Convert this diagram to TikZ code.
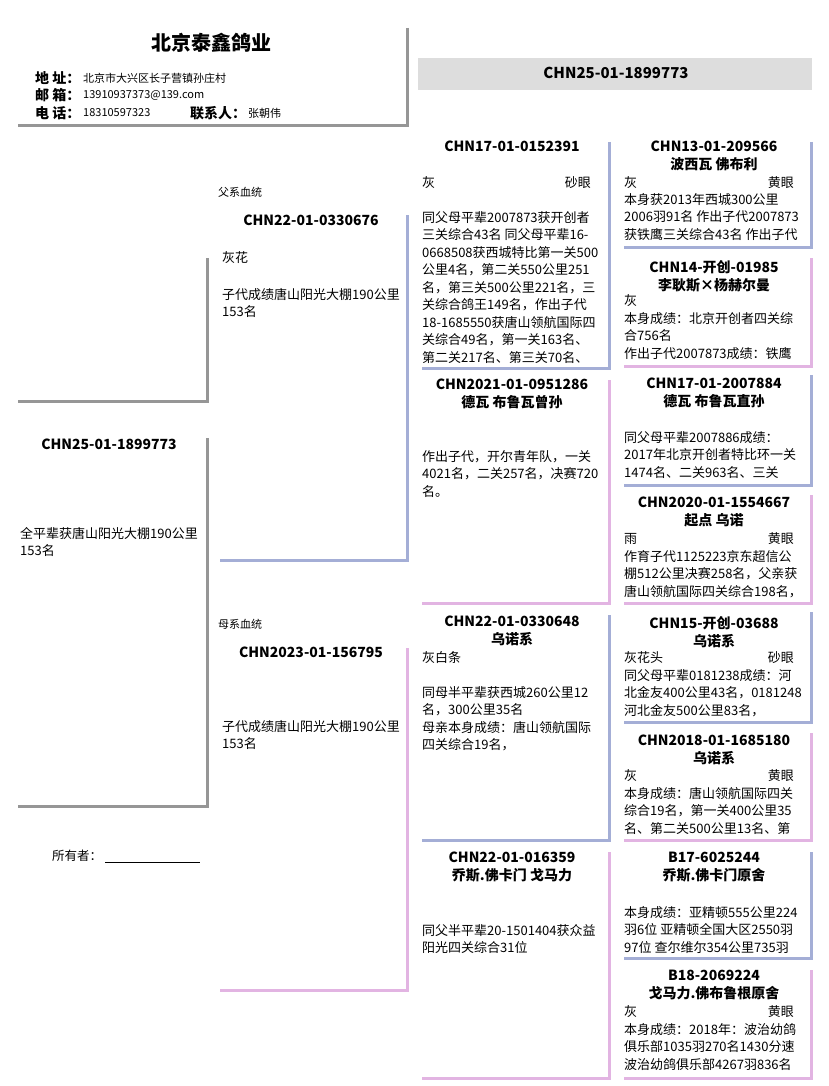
\documentclass[tikz,border=0pt]{standalone}
\usepackage{fontspec}
\setmainfont{Noto Sans CJK SC}
\definecolor{sireblue}{RGB}{164,174,214}
\definecolor{dampink}{RGB}{226,180,226}
\definecolor{linegray}{RGB}{150,150,150}
\definecolor{bandgray}{RGB}{221,221,221}
\begin{document}
\begin{tikzpicture}[x=1pt,y=-1pt,
        idtxt/.style={font=\bfseries\fontsize{14}{18}\selectfont,align=center,anchor=north,inner sep=0},
        body/.style={font=\fontsize{13}{17.5}\selectfont,align=left,anchor=north west,inner sep=0},
        colour/.style={font=\fontsize{13}{15}\selectfont,anchor=west,inner sep=0},
        eye/.style={font=\fontsize{13}{15}\selectfont,anchor=east,inner sep=0},
        small/.style={font=\fontsize{11}{13}\selectfont,anchor=west,inner sep=0},
        lbl/.style={font=\bfseries\fontsize{14}{16}\selectfont,anchor=west,inner sep=0},
        sireline/.style={draw=sireblue,line width=3pt},
        damline/.style={draw=dampink,line width=3pt},
        grayline/.style={draw=linegray,line width=3pt}]
        \useasboundingbox (0,0) rectangle (828,1086);

        % header
        \draw[grayline] (407,28) -- (407,126) -- (18,126);
        \node[font=\bfseries\fontsize{20}{22}\selectfont] (loft) at (211,43) {北京泰鑫鸽业};
        \node[lbl] (addr) at (35,78) {地 址：};
        \node[small] (addrv) at (83,78) {北京市大兴区长子营镇孙庄村};
        \node[lbl] (mail) at (35,95) {邮 箱：};
        \node[small] (mailv) at (83,95) {13910937373@139.com};
        \node[lbl] (tel) at (35,113) {电 话：};
        \node[small] (telv) at (83,113) {18310597323};
        \node[lbl] (cont) at (190,113) {联系人：};
        \node[small] (contv) at (248,113) {张朝伟};

        \fill[bandgray] (418,58) rectangle (812,90);
        \node[font=\bfseries\fontsize{15}{17}\selectfont] (ring) at (616,73) {CHN25-01-1899773};

        % bird
        \draw[grayline] (207,258) -- (207,401) -- (18,401);
        \draw[grayline] (207,438) -- (207,806) -- (18,806);
        \node[idtxt] (bird) at (109,439) {CHN25-01-1899773};
        \node[body] (birdt) at (20,527) {全平辈获唐山阳光大棚190公里\\153名};

        \node[small,font=\fontsize{12.5}{14}\selectfont] (owner) at (52,856) {所有者：};
        \draw[line width=0.8pt] (105,862) -- (200,862);

        % parents
        \node[small] (sside) at (218,192) {父系血统};
        \draw[sireline] (407,215) -- (407,560) -- (220,560);
        \node[idtxt] (sire) at (311,215) {CHN22-01-0330676};
        \node[colour] (sirec) at (222,258) {灰花};
        \node[body] (siret) at (222,288) {子代成绩唐山阳光大棚190公里\\153名};

        \node[small] (dside) at (218,624) {母系血统};
        \draw[damline] (407,648) -- (407,990) -- (220,990);
        \node[idtxt] (dam) at (311,647) {CHN2023-01-156795};
        \node[body] (damt) at (222,720) {子代成绩唐山阳光大棚190公里\\153名};

        % grandparents
        \draw[sireline] (609,142) -- (609,368) -- (422,368);
        \node[idtxt] (ss) at (512,141) {CHN17-01-0152391};
        \node[colour] (ssc) at (422,183) {灰};
        \node[eye] (sse) at (591,183) {砂眼};
        \node[body] (sst) at (422,211) {同父母平辈2007873获开创者\\三关综合43名 同父母平辈16-\\0668508获西城特比第一关500\\公里4名，第二关550公里251\\名，第三关500公里221名，三\\关综合鸽王149名，作出子代\\18-1685550获唐山领航国际四\\关综合49名，第一关163名、\\第二关217名、第三关70名、};

        \draw[damline] (609,380) -- (609,603) -- (422,603);
        \node[idtxt] (sd) at (512,379) {CHN2021-01-0951286\\德瓦 布鲁瓦曾孙};
        \node[body] (sdt) at (422,450) {作出子代，开尔青年队，一关\\4021名，二关257名，决赛720\\名。};

        \draw[sireline] (609,615) -- (609,840) -- (422,840);
        \node[idtxt] (ds) at (512,616) {CHN22-01-0330648\\乌诺系};
        \node[colour] (dsc) at (422,658) {灰白条};
        \node[body] (dst) at (422,686) {同母半平辈获西城260公里12\\名，300公里35名\\母亲本身成绩：唐山领航国际\\四关综合19名，};

        \draw[damline] (609,852) -- (609,1078) -- (422,1078);
        \node[idtxt] (dd) at (512,852) {CHN22-01-016359\\乔斯.佛卡门 戈马力};
        \node[body] (ddt) at (422,924) {同父半平辈20-1501404获众益\\阳光四关综合31位};

        % great-grandparents
        \draw[sireline] (811,142) -- (811,247) -- (624,247);
        \node[idtxt] (sss) at (714,141) {CHN13-01-209566\\波西瓦 佛布利};
        \node[colour] (sssc) at (624,183) {灰};
        \node[eye] (ssse) at (794,183) {黄眼};
        \node[body] (ssst) at (624,193) {本身获2013年西城300公里\\2006羽91名 作出子代2007873\\获铁鹰三关综合43名 作出子代};

        \draw[damline] (811,258) -- (811,366) -- (624,366);
        \node[idtxt] (ssd) at (714,260) {CHN14-开创-01985\\李耿斯×杨赫尔曼};
        \node[colour] (ssdc) at (624,301) {灰};
        \node[body] (ssdt) at (624,312) {本身成绩：北京开创者四关综\\合756名\\作出子代2007873成绩：铁鹰};

        \draw[sireline] (811,375) -- (811,485) -- (624,485);
        \node[idtxt] (sds) at (714,378) {CHN17-01-2007884\\德瓦 布鲁瓦直孙};
        \node[body] (sdst) at (624,431) {同父母平辈2007886成绩：\\2017年北京开创者特比环一关\\1474名、二关963名、三关};

        \draw[damline] (811,495) -- (811,603) -- (624,603);
        \node[idtxt] (sdd) at (714,497) {CHN2020-01-1554667\\起点 乌诺};
        \node[colour] (sddc) at (624,539) {雨};
        \node[eye] (sdde) at (794,539) {黄眼};
        \node[body] (sddt) at (624,550) {作育子代1125223京东超信公\\棚512公里决赛258名，父亲获\\唐山领航国际四关综合198名，};

        \draw[sireline] (811,612) -- (811,722) -- (624,722);
        \node[idtxt] (dss) at (714,616) {CHN15-开创-03688\\乌诺系};
        \node[colour] (dssc) at (624,658) {灰花头};
        \node[eye] (dsse) at (794,658) {砂眼};
        \node[body] (dsst) at (624,669) {同父母平辈0181238成绩：河\\北金友400公里43名，0181248\\河北金友500公里83名，};

        \draw[damline] (811,733) -- (811,840) -- (624,840);
        \node[idtxt] (dsd) at (714,735) {CHN2018-01-1685180\\乌诺系};
        \node[colour] (dsdc) at (624,776) {灰};
        \node[eye] (dsde) at (794,776) {黄眼};
        \node[body] (dsdt) at (624,787) {本身成绩：唐山领航国际四关\\综合19名，第一关400公里35\\名、第二关500公里13名、第};

        \draw[sireline] (811,852) -- (811,958) -- (624,958);
        \node[idtxt] (dds) at (714,852) {B17-6025244\\乔斯.佛卡门原舍};
        \node[body] (ddst) at (624,906) {本身成绩：亚精顿555公里224\\羽6位 亚精顿全国大区2550羽\\97位 查尔维尔354公里735羽};

        \draw[damline] (811,970) -- (811,1078) -- (624,1078);
        \node[idtxt] (ddd) at (714,970) {B18-2069224\\戈马力.佛布鲁根原舍};
        \node[colour] (dddc) at (624,1012) {灰};
        \node[eye] (ddde) at (794,1012) {黄眼};
        \node[body] (dddt) at (624,1023) {本身成绩：2018年：波治幼鸽\\俱乐部1035羽270名1430分速\\波治幼鸽俱乐部4267羽836名};
\end{tikzpicture}
\end{document}
